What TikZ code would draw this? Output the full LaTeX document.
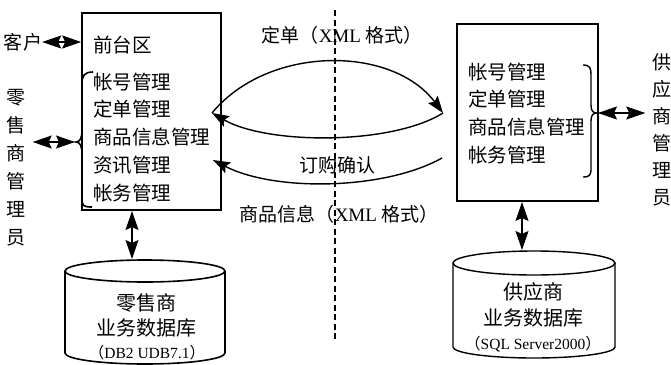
\documentclass[tikz,border=0pt]{standalone}
\usepackage{fontspec}
\newfontfamily\cjk{Noto Sans CJK SC}
\newfontfamily\lat{Liberation Serif}
\usetikzlibrary{arrows.meta}
\tikzset{
  bigtip/.tip={Stealth[length=19pt,width=13pt,inset=3pt]},
  curtip/.tip={Stealth[length=17pt,width=12pt,inset=3pt]}
}
\begin{document}
\begin{tikzpicture}[x=1pt,y=-1pt,
  boxst/.style={draw, line width=1.6pt, inner sep=0pt},
  txt/.style={font=\cjk\fontsize{19.5}{22}\selectfont, inner sep=0pt, anchor=west},
  lbl/.style={font=\cjk\fontsize{19}{22}\selectfont, inner sep=0pt},
  vtxt/.style={font=\cjk\fontsize{19}{28}\selectfont, inner sep=0pt, align=center},
  dbtxt/.style={font=\cjk\fontsize{20}{22}\selectfont, inner sep=0pt},
  smtxt/.style={font=\lat\fontsize{15.5}{17}\selectfont, inner sep=0pt},
  dbl/.style={bigtip-bigtip, line width=1.2pt},
  curv/.style={-curtip, line width=1.4pt},
  brc/.style={line width=1.6pt},
  cyl/.style={line width=1.6pt}]
\useasboundingbox (0,0) rectangle (671,364);

% left box
\node[boxst, minimum width=139pt, minimum height=197pt] (L) at (151.5,111.5) {};
\node[txt] (qt) at (93,45) {前台区};
\node[txt] (l1) at (93,82) {帐号管理};
\node[txt] (l2) at (93,109) {定单管理};
\node[txt] (l3) at (93,137) {商品信息管理};
\node[txt] (l4) at (93,165) {资讯管理};
\node[txt] (l5) at (93,193) {帐务管理};

% right box
\node[boxst, line width=1.4pt, minimum width=141pt, minimum height=177pt] (R) at (527.5,112.5) {};
\node[txt] (r1) at (468,72) {帐号管理};
\node[txt] (r2) at (468,99) {定单管理};
\node[txt] (r3) at (468,127) {商品信息管理};
\node[txt] (r4) at (468,155) {帐务管理};

% outside labels
\node[lbl] (kh) at (23,42) {客户};
\node[vtxt] (lv) at (16,168) {零\\售\\商\\管\\理\\员};
\node[vtxt, font=\cjk\fontsize{19}{27}\selectfont] (rv) at (662,129.5) {供\\应\\商\\管\\理\\员};

% braces
\coordinate (lb) at (76,142);
\draw[brc] (93,72) .. controls (84,72) and (82,76) .. (82,84) -- (82,130)
  .. controls (82,138) and (80,142) .. (lb)
  .. controls (80,142) and (82,146) .. (82,154) -- (82,199)
  .. controls (82,206) and (84,207) .. (92,207);
\coordinate (rb) at (597,113);
\draw[brc, line width=1.4pt] (583,65) .. controls (590,65) and (591,68) .. (591,75) -- (591,105)
  .. controls (591,111) and (593,113) .. (rb)
  .. controls (593,113) and (591,115) .. (591,121) -- (591,168)
  .. controls (591,175) and (590,177) .. (583,177);

% side arrows
\draw[dbl] (kh.east) -- (kh.east -| L.west);
\draw[dbl] ([xshift=-1pt]lb) -- ([xshift=7pt]lb -| lv.east);
\draw[dbl] ([xshift=1pt]rb) -- ([xshift=-7pt]rb -| rv.west);

% dashed divider
\coordinate (dt) at (335,10);
\coordinate (db) at (335,342);
\draw[line width=1.1pt, dash pattern=on 6pt off 3.5pt] (dt) -- (db);

% curves
\coordinate (cl) at (212,113);
\coordinate (cr) at (443,113);
\coordinate (c3r) at (442,158);
\coordinate (c3l) at (213,160);
\draw[curv] (cl) .. controls (268,45) and (392,45) .. (cr);
\draw[curv] (cr) .. controls (392,145) and (268,145) .. (cl);
\draw[curv] (c3r) .. controls (385,190) and (275,192) .. (c3l);

\node[lbl] (m1) at (342,35) {定单（{\lat XML} 格式）};
\node[lbl] (m2) at (337,165) {订购确认};
\node[lbl] (m3) at (339,214) {商品信息（{\lat XML} 格式）};

% left cylinder
\draw[cyl] (65,271) -- (65,353) arc[start angle=180, end angle=0, x radius=80, y radius=11] -- (225,271);
\draw[cyl] (145,271) ellipse [x radius=80, y radius=11];
\node[dbtxt] (ld1) at (146,303) {零售商};
\node[dbtxt] (ld2) at (146,328) {业务数据库};
\node[smtxt] (ld3) at (147,353) {{\cjk （}DB2 UDB7.1{\cjk ）}};

% right cylinder
\draw[cyl, line width=1.4pt] (453,263) -- (453,347) arc[start angle=180, end angle=0, x radius=81, y radius=11] -- (615,263);
\draw[cyl, line width=1.4pt] (534,263) ellipse [x radius=81, y radius=12];
\node[dbtxt] (rd1) at (533,292) {供应商};
\node[dbtxt] (rd2) at (533,318) {业务数据库};
\node[smtxt] (rd3) at (533,344) {{\cjk （}SQL Server2000{\cjk ）}};

% vertical arrows
\coordinate (la1) at (132,211);
\coordinate (la2) at (132,259);
\draw[dbl] (la1) -- (la2);
\coordinate (ra1) at (522,202);
\coordinate (ra2) at (522,250);
\draw[dbl] (ra1) -- (ra2);
\end{tikzpicture}
\end{document}
